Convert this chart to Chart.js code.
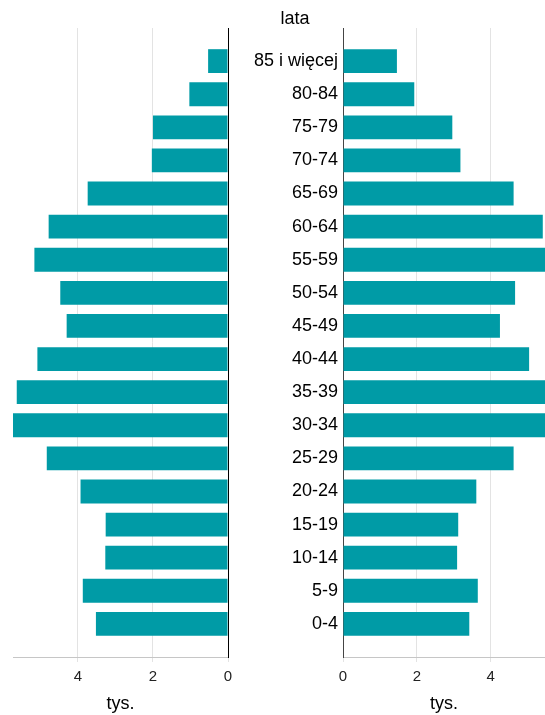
<!DOCTYPE html>
<html>
<head>
<meta charset="utf-8">
<script src="https://cdn.jsdelivr.net/npm/chart.js@4/dist/chart.umd.min.js"></script>
<style>
  body { margin: 0; background: #fff; }
  #wrap { position: relative; width: 545px; height: 715px; overflow: hidden; }
  #left { position: absolute; left: 0; top: 0; width: 245px; height: 715px; }
  #right { position: absolute; left: 230px; top: 0; width: 315px; height: 715px; }
  #lata { position: absolute; left: 250px; top: 8px; width: 90px; text-align: center;
          font: 18px "Liberation Sans", Arial, sans-serif; color: #000; line-height: 21px; }
</style>
</head>
<body>
<div id="wrap">
  <div id="left"><canvas id="leftchart"></canvas></div>
  <div id="right"><canvas id="rightchart"></canvas></div>
  <div id="lata">lata</div>
</div>
<script>
// age groups, youngest first
const ageGroups = ['0-4', '5-9', '10-14', '15-19', '20-24', '25-29', '30-34', '35-39', '40-44',
    '45-49', '50-54', '55-59', '60-64', '65-69', '70-74', '75-79', '80-84', '85 i więcej'];
// thousands, left panel
const leftValues = [3.52, 3.87, 3.27, 3.26, 3.93, 4.83, 5.73, 5.63, 5.08,
    4.30, 4.47, 5.16, 4.78, 3.74, 2.03, 2.00, 1.03, 0.53];
// thousands, right panel (three bars run past the edge)
const rightValues = [3.42, 3.65, 3.09, 3.12, 3.61, 4.62, 5.80, 5.70, 5.04,
    4.25, 4.66, 5.60, 5.41, 4.62, 3.18, 2.96, 1.93, 1.46];
const xTicks = [0, 2, 4];
const leftMax = 5.73;
const rightMax = 5.47;
const unitLabel = 'tys.';

const font = '"Liberation Sans", Arial, sans-serif';
const barColor = '#009ba6';

// top row first, empty slot at both ends
const labels = [''].concat(ageGroups.slice().reverse(), ['']);
function pad(values) {
    return [null].concat(values.slice().reverse(), [null]);
}

function keepTicks(scale) {
    scale.ticks = xTicks.map(v => ({ value: v }));
}

function xScale(max, reverse) {
    return {
        min: 0,
        max: max,
        reverse: reverse,
        afterBuildTicks: keepTicks,
        ticks: { stepSize: 2, color: '#222', font: { family: font, size: 15 }, padding: 6 },
        grid: { color: '#e3e3e3', tickLength: 5 },
        border: { color: '#c6c6c6', width: 1 },
        title: { display: true, text: unitLabel, color: '#000', font: { family: font, size: 18 }, padding: { top: 8, bottom: 0 } },
        afterFit: s => { s.height = 58; }
    };
}

new Chart(document.getElementById('leftchart'), {
    type: 'bar',
    data: { labels: labels, datasets: [{ data: pad(leftValues), backgroundColor: barColor }] },
    options: {
        indexAxis: 'y',
        responsive: true,
        maintainAspectRatio: false,
        animation: false,
        layout: { padding: { top: 28, left: 13, right: 17 } },
        plugins: { legend: { display: false }, tooltip: { enabled: false } },
        scales: {
            x: xScale(leftMax, true),
            y: {
                position: 'right',
                offset: false,
                ticks: { display: false, autoSkip: false },
                grid: { display: false, drawTicks: false },
                border: { color: '#000', width: 1 },
                afterFit: s => { s.width = 0; }
            }
        }
    }
});

new Chart(document.getElementById('rightchart'), {
    type: 'bar',
    data: { labels: labels, datasets: [{ data: pad(rightValues), backgroundColor: barColor }] },
    options: {
        indexAxis: 'y',
        responsive: true,
        maintainAspectRatio: false,
        animation: false,
        layout: { padding: { top: 28, right: 0 } },
        plugins: { legend: { display: false }, tooltip: { enabled: false } },
        scales: {
            x: xScale(rightMax, false),
            y: {
                offset: false,
                ticks: { autoSkip: false, color: '#000', font: { family: font, size: 18 }, padding: 5 },
                grid: { display: false, drawTicks: false },
                border: { color: '#444', width: 1 },
                afterFit: s => { s.width = 113; }
            }
        }
    }
});
</script>
</body>
</html>
